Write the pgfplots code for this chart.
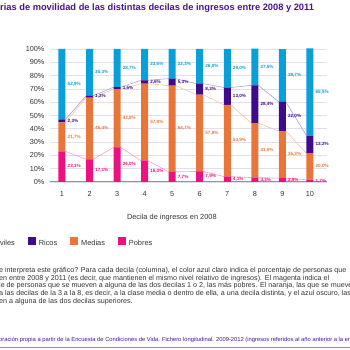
\documentclass[border=0pt]{standalone}
\usepackage{fontspec}
\setmainfont{Liberation Sans}
\usepackage{pgfplots}
\pgfplotsset{compat=1.18}
\usepackage{pgfplotstable}

\definecolor{cI}{HTML}{0A9FD8}
\definecolor{cR}{HTML}{3F0B8A}
\definecolor{cM}{HTML}{E8763A}
\definecolor{cP}{HTML}{EE0F80}
\definecolor{cRl}{HTML}{B0A3D6}
\definecolor{cMl}{HTML}{F5C3A0}
\definecolor{cPl}{HTML}{F7A0CA}
\definecolor{cTitle}{HTML}{4A1390}
\definecolor{cGrid}{HTML}{E2DFEC}
\definecolor{cBase}{HTML}{9A84D0}
\definecolor{cText}{HTML}{333333}

\pgfplotstableread{
x P M R I
1 23.1 21.7 2.3 52.9
2 17.1 46.4 1.2 35.3
3 26.0 43.8 1.5 28.7
4 16.0 57.9 2.6 23.5
5 7.7 64.7 5.3 22.3
6 7.9 57.8 8.3 26.0
7 4.1 53.9 13.0 29.0
8 3.3 41.0 28.4 27.5
9 2.9 35.3 22.0 39.7
10 1.7 20.0 13.2 65.5
}\data

\pgfplotsset{
  common/.style={
    at={(50pt,168pt)}, anchor=south west,
    scale only axis, width=277pt, height=133pt,
    xmin=0.565, xmax=10.62, ymin=0, ymax=100,
  },
  lab/.style={
    forget plot, only marks, mark=*, mark size=0pt, mark options={draw=none,fill=none},
    point meta=explicit,
    nodes near coords={\pgfmathprintnumber[fixed,fixed zerofill,precision=1,use comma]{\pgfplotspointmeta}\%},
    every node near coord/.append style={anchor=west, inner sep=0pt, text=#1,
      font=\bfseries\fontsize{4.6}{5}\selectfont},
  },
}

\begin{document}
\begin{tikzpicture}
\path[use as bounding box, clip] (0pt,0pt) rectangle (350pt,350pt);

\begin{axis}[common,
  clip=false,
  axis line style={draw=none},
  major tick length=0pt,
  /pgf/number format/assume math mode=true,
  ytick={0,10,...,100},
  yticklabel={\pgfmathprintnumber{\tick}\%},
  ymajorgrids, grid style={cGrid, line width=0.6pt},
  extra y ticks={0}, extra y tick labels={},
  extra y tick style={grid style={cBase, line width=1pt}},
  xtick={1,...,10},
  ticklabel style={font=\fontsize{7.3}{8}\selectfont, text=cText},
  xticklabel style={yshift=-6pt},
  yticklabel style={xshift=-2pt},
  xlabel={Decila de ingresos en 2008},
  xlabel style={at={(axis description cs:0.44,-0.27)}, anchor=center,
    font=\fontsize{7.4}{8}\selectfont, text=cText},
  legend columns=4,
  legend style={draw=none, fill=none, inner sep=0pt, outer sep=0pt,
    at={(axis description cs:-0.279,-0.451)}, anchor=west,
    font=\fontsize{7.4}{8}\selectfont, text=cText,
    nodes={inner sep=0pt},
    /tikz/every odd column/.append style={column sep=3.5pt},
    /tikz/every even column/.append style={column sep=13pt}},
]
\addlegendimage{legend image code/.code={\fill[cI] (0pt,-0.8pt) rectangle (7pt,6.2pt);}}
\addlegendentry{Inmóviles}
\addlegendimage{legend image code/.code={\fill[cR] (0pt,-0.8pt) rectangle (7pt,6.2pt);}}
\addlegendentry{Ricos}
\addlegendimage{legend image code/.code={\fill[cM] (0pt,-0.8pt) rectangle (7pt,6.2pt);}}
\addlegendentry{Medias}
\addlegendimage{legend image code/.code={\fill[cP] (0pt,-0.8pt) rectangle (7pt,6.2pt);}}
\addlegendentry{Pobres}

\addplot[forget plot, cPl, line width=0.6pt] coordinates {
(1.127,23.1)(1.873,17.1)(2.127,17.1)(2.873,26.0)(3.127,26.0)(3.873,16.0)(4.127,16.0)
(4.873,7.7)(5.127,7.7)(5.873,7.9)(6.127,7.9)(6.873,4.1)(7.127,4.1)(7.873,3.3)
(8.127,3.3)(8.873,2.9)(9.127,2.9)(9.873,1.7)};
\addplot[forget plot, cMl, line width=0.6pt] coordinates {
(1.127,44.8)(1.873,63.5)(2.127,63.5)(2.873,69.8)(3.127,69.8)(3.873,73.9)(4.127,73.9)
(4.873,72.4)(5.127,72.4)(5.873,65.7)(6.127,65.7)(6.873,58.0)(7.127,58.0)(7.873,44.3)
(8.127,44.3)(8.873,38.2)(9.127,38.2)(9.873,21.7)};
\addplot[forget plot, cRl, line width=0.6pt] coordinates {
(1.127,47.1)(1.873,64.7)(2.127,64.7)(2.873,71.3)(3.127,71.3)(3.873,76.5)(4.127,76.5)
(4.873,77.7)(5.127,77.7)(5.873,74.0)(6.127,74.0)(6.873,71.0)(7.127,71.0)(7.873,72.7)
(8.127,72.7)(8.873,60.2)(9.127,60.2)(9.873,34.9)};

\addplot[lab=cP] table[x expr=\thisrow{x}+0.2, y expr=\thisrow{P}/2, meta=P]{\data};
\addplot[lab=cM] table[x expr=\thisrow{x}+0.2, y expr=\thisrow{P}+\thisrow{M}/2, meta=M]{\data};
\addplot[lab=cR] table[x expr=\thisrow{x}+0.2, y expr=\thisrow{P}+\thisrow{M}+\thisrow{R}/2, meta=R]{\data};
\addplot[lab=cI] table[x expr=\thisrow{x}+0.2, y expr=\thisrow{P}+\thisrow{M}+\thisrow{R}+\thisrow{I}/2, meta=I]{\data};
\end{axis}

\begin{axis}[common, hide axis, ybar stacked, bar width=7pt]
\addplot[fill=cP, draw=none] table[x=x, y=P]{\data};
\addplot[fill=cM, draw=none] table[x=x, y=M]{\data};
\addplot[fill=cR, draw=none] table[x=x, y=R]{\data};
\addplot[fill=cI, draw=none] table[x=x, y=I]{\data};
\end{axis}

\node[anchor=base west, inner sep=0pt, text=cTitle, font=\bfseries\fontsize{9.3}{10}\selectfont]
  at (0pt,339pt) {rias de movilidad de las distintas decilas de ingresos entre 2008 y 2011};

\begin{scope}[every node/.style={anchor=base west, inner sep=0pt, text=cText, font=\fontsize{7.15}{7.75}\selectfont}]
\node at (-1pt,77.6pt) {e interpreta este gráfico? Para cada decila (columna), el color azul claro indica el porcentaje de personas que};
\node at (-1pt,69.8pt) {en entre 2008 y 2011 (es decir, que mantienen el mismo nivel relativo de ingresos). El magenta indica el};
\node at (-1pt,62.1pt) {je de personas que se mueven a alguna de las dos decilas 1 o 2, las más pobres. El naranja, las que se mueven};
\node at (-1pt,54.4pt) {a las decilas de la 3 a la 8, es decir, a la clase media o dentro de ella, a una decila distinta, y el azul oscuro, las};
\node at (-1pt,46.6pt) {en a alguna de las dos decilas superiores.};
\end{scope}

\node[anchor=base west, inner sep=0pt, text=cTitle, font=\fontsize{5.8}{6}\selectfont]
  at (-1pt,9pt) {oración propia a partir de la Encuesta de Condiciones de Vida. Fichero longitudinal. 2009-2012 (ingresos referidos al año anterior a la encuesta).};
\draw[cBase, line width=0.9pt] (0pt,3pt) -- (350pt,3pt);
\end{tikzpicture}
\end{document}
